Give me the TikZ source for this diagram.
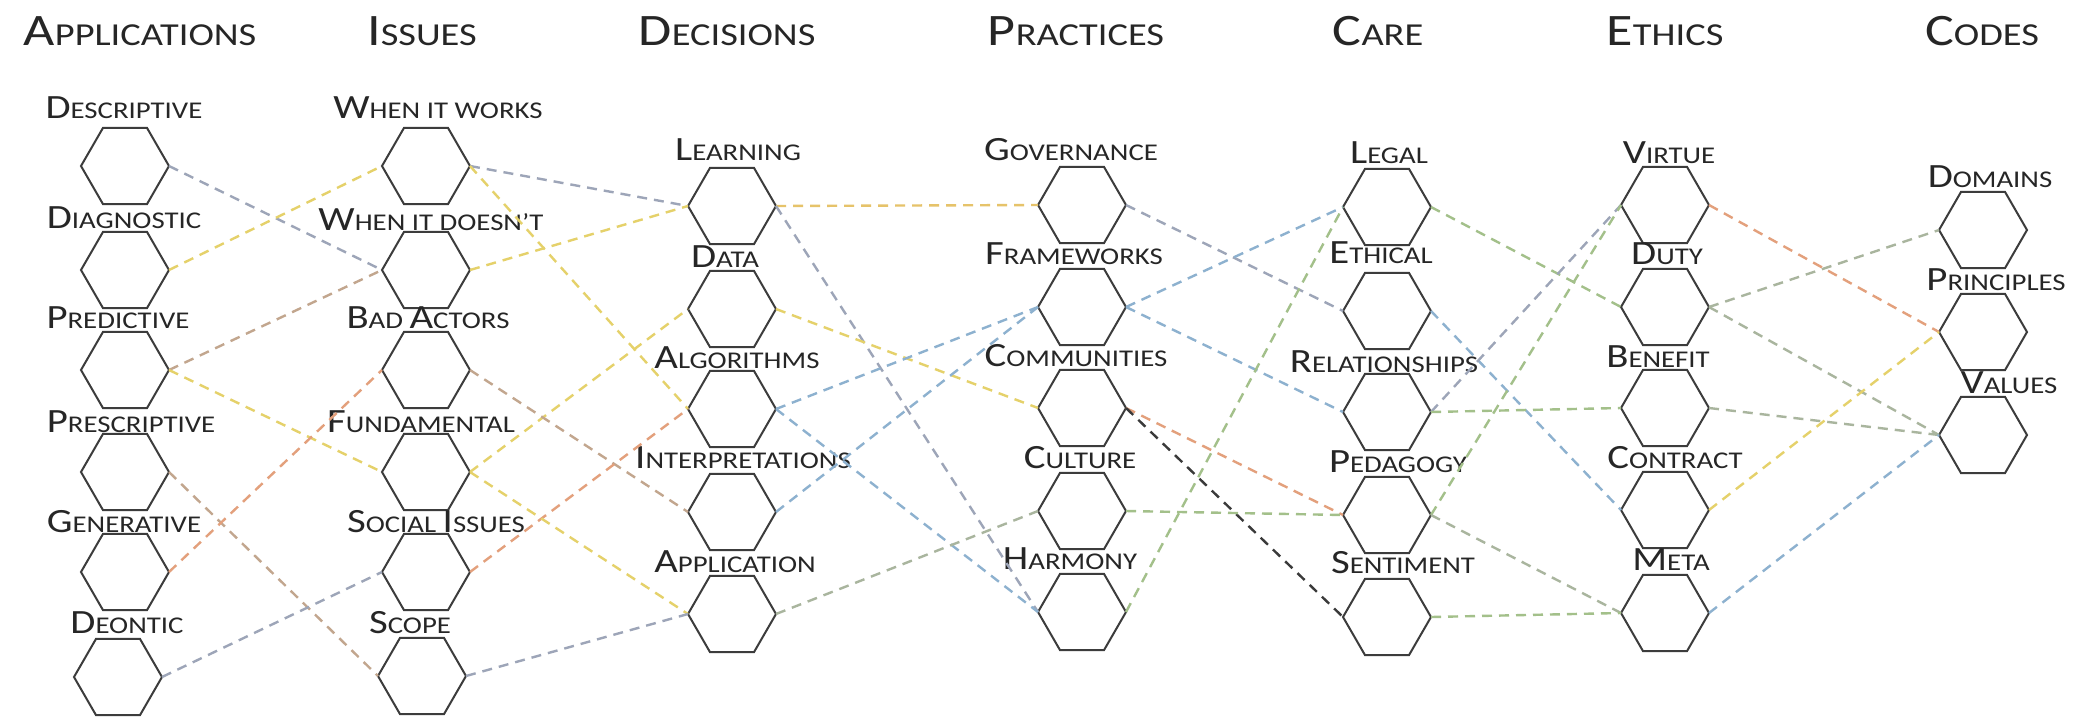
\documentclass[tikz,border=0pt]{standalone}
\usepackage{fontspec}
\setmainfont{Carlito}[FakeStretch=1.2]
\usetikzlibrary{shapes.geometric}
\definecolor{hexcol}{HTML}{3C3C3C}
\definecolor{txtcol}{HTML}{262626}
\definecolor{cgray}{HTML}{9DA5B8}
\definecolor{cyel}{HTML}{E5D16A}
\definecolor{cgold}{HTML}{E6C36A}
\definecolor{corg}{HTML}{E3A07C}
\definecolor{ctan}{HTML}{C2A68E}
\definecolor{cblue}{HTML}{8DB1CF}
\definecolor{cgrn}{HTML}{A3C08A}
\definecolor{cgg}{HTML}{A9B59E}
\definecolor{cblk}{HTML}{3A3A3A}
\newcommand\BigL[1]{{\fontsize{17pt}{20pt}\selectfont #1}}
\newcommand\SmL[1]{{\fontsize{12pt}{20pt}\selectfont #1}}
\newcommand\BigH[1]{{\fontsize{22.5pt}{26pt}\selectfont #1}}
\newcommand\SmH[1]{{\fontsize{16pt}{26pt}\selectfont #1}}
\tikzset{
  hexa/.style={draw=hexcol, line width=1pt, regular polygon, regular polygon sides=6,
    minimum size=44pt, inner sep=0pt, outer sep=0pt},
  lbl/.style={anchor=base, inner sep=0pt, text=txtcol},
  hdr/.style={anchor=base, inner sep=0pt, text=txtcol},
  lk/.style={dash pattern=on 5pt off 3.5pt, line width=1.2pt}
}
\begin{document}
\begin{tikzpicture}[x=0.5pt,y=-0.5pt]
\fill[white] (0,0) rectangle (2082,718);
\useasboundingbox (0,0) rectangle (2082,718);
% headers
\node[hdr] (h1) at (140,45) {\BigH{A}\SmH{PPLICATIONS}};
\node[hdr] (h2) at (422,45) {\BigH{I}\SmH{SSUES}};
\node[hdr] (h3) at (727,45) {\BigH{D}\SmH{ECISIONS}};
\node[hdr] (h4) at (1076,45) {\BigH{P}\SmH{RACTICES}};
\node[hdr] (h5) at (1378,45) {\BigH{C}\SmH{ARE}};
\node[hdr] (h6) at (1665,45) {\BigH{E}\SmH{THICS}};
\node[hdr] (h7) at (1982,45) {\BigH{C}\SmH{ODES}};
% column 1
\node[hexa] (desc) at (125,166) {};
\node[hexa] (diag) at (125,270) {};
\node[hexa] (pred) at (125,370) {};
\node[hexa] (presc) at (125,472) {};
\node[hexa] (gen) at (125,572) {};
\node[hexa] (deon) at (118,677) {};
\node[lbl] (ldesc) at (124,118) {\BigL{D}\SmL{ESCRIPTIVE}};
\node[lbl] (ldiag) at (124,228) {\BigL{D}\SmL{IAGNOSTIC}};
\node[lbl] (lpred) at (118,328) {\BigL{P}\SmL{REDICTIVE}};
\node[lbl] (lpresc) at (131,432) {\BigL{P}\SmL{RESCRIPTIVE}};
\node[lbl] (lgen) at (124,532) {\BigL{G}\SmL{ENERATIVE}};
\node[lbl] (ldeon) at (127,633) {\BigL{D}\SmL{EONTIC}};
% column 2
\node[hexa] (works) at (426,166) {};
\node[hexa] (doesnt) at (426,270) {};
\node[hexa] (bad) at (426,370) {};
\node[hexa] (fund) at (426,472) {};
\node[hexa] (social) at (426,572) {};
\node[hexa] (scope) at (422,676) {};
\node[lbl] (lworks) at (438,118) {\BigL{W}\SmL{HEN IT WORKS}};
\node[lbl] (ldoesnt) at (431,230) {\BigL{W}\SmL{HEN IT DOESN’T}};
\node[lbl] (lbad) at (428,328) {\BigL{B}\SmL{AD }\BigL{A}\SmL{CTORS}};
\node[lbl] (lfund) at (421,432) {\BigL{F}\SmL{UNDAMENTAL}};
\node[lbl] (lsocial) at (436,532) {\BigL{S}\SmL{OCIAL }\BigL{I}\SmL{SSUES}};
\node[lbl] (lscope) at (410,633) {\BigL{S}\SmL{COPE}};
% column 3
\node[hexa] (learn) at (732,206) {};
\node[hexa] (data) at (732,309) {};
\node[hexa] (algo) at (732,409) {};
\node[hexa] (interp) at (732,512) {};
\node[hexa] (appl) at (732,614) {};
\node[lbl] (llearn) at (738,160) {\BigL{L}\SmL{EARNING}};
\node[lbl] (ldata) at (725,267) {\BigL{D}\SmL{ATA}};
\node[lbl] (lalgo) at (737,368) {\BigL{A}\SmL{LGORITHMS}};
\node[lbl] (linterp) at (743,468) {\BigL{I}\SmL{NTERPRETATIONS}};
\node[lbl] (lappl) at (735,572) {\BigL{A}\SmL{PPLICATION}};
% column 4
\node[hexa] (gov) at (1082,205) {};
\node[hexa] (frame) at (1082,307) {};
\node[hexa] (comm) at (1082,408) {};
\node[hexa] (cult) at (1082,511) {};
\node[hexa] (harm) at (1082,612) {};
\node[lbl] (lgov) at (1071,160) {\BigL{G}\SmL{OVERNANCE}};
\node[lbl] (lframe) at (1074,264) {\BigL{F}\SmL{RAMEWORKS}};
\node[lbl] (lcomm) at (1076,366) {\BigL{C}\SmL{OMMUNITIES}};
\node[lbl] (lcult) at (1080,468) {\BigL{C}\SmL{ULTURE}};
\node[lbl] (lharm) at (1070,569) {\BigL{H}\SmL{ARMONY}};
% column 5
\node[hexa] (legal) at (1387,207) {};
\node[hexa] (ethical) at (1387,311) {};
\node[hexa] (rel) at (1387,412) {};
\node[hexa] (ped) at (1387,515) {};
\node[hexa] (sent) at (1387,617) {};
\node[lbl] (llegal) at (1389,163) {\BigL{L}\SmL{EGAL}};
\node[lbl] (lethical) at (1381,263) {\BigL{E}\SmL{THICAL}};
\node[lbl] (lrel) at (1384,372) {\BigL{R}\SmL{ELATIONSHIPS}};
\node[lbl] (lped) at (1398,472) {\BigL{P}\SmL{EDAGOGY}};
\node[lbl] (lsent) at (1403,573) {\BigL{S}\SmL{ENTIMENT}};
% column 6
\node[hexa] (virtue) at (1665,205) {};
\node[hexa] (duty) at (1665,307) {};
\node[hexa] (benefit) at (1665,408) {};
\node[hexa] (contract) at (1665,510) {};
\node[hexa] (meta) at (1665,613) {};
\node[lbl] (lvirtue) at (1669,163) {\BigL{V}\SmL{IRTUE}};
\node[lbl] (lduty) at (1667,264) {\BigL{D}\SmL{UTY}};
\node[lbl] (lbenefit) at (1658,367) {\BigL{B}\SmL{ENEFIT}};
\node[lbl] (lcontract) at (1675,468) {\BigL{C}\SmL{ONTRACT}};
\node[lbl] (lmeta) at (1671,570) {\BigL{M}\SmL{ETA}};
% column 7
\node[hexa] (domains) at (1983,230) {};
\node[hexa] (principles) at (1983,332) {};
\node[hexa] (values) at (1983,435) {};
\node[lbl] (ldomains) at (1990,187) {\BigL{D}\SmL{OMAINS}};
\node[lbl] (lprinciples) at (1996,290) {\BigL{P}\SmL{RINCIPLES}};
\node[lbl] (lvalues) at (2009,393) {\BigL{V}\SmL{ALUES}};
% links col1 -> col2
\draw[lk,cgray] (desc.0) -- (doesnt.180);
\draw[lk,cyel] (diag.0) -- (works.180);
\draw[lk,ctan] (pred.0) -- (doesnt.180);
\draw[lk,cyel] (pred.0) -- (fund.180);
\draw[lk,ctan] (presc.0) -- (scope.180);
\draw[lk,corg] (gen.0) -- (bad.180);
\draw[lk,cgray] (deon.0) -- (social.180);
% col2 -> col3
\draw[lk,cgray] (works.0) -- (learn.180);
\draw[lk,cyel] (works.0) -- (algo.180);
\draw[lk,cyel] (doesnt.0) -- (learn.180);
\draw[lk,cyel] (fund.0) -- (data.180);
\draw[lk,ctan] (bad.0) -- (interp.180);
\draw[lk,corg] (social.0) -- (algo.180);
\draw[lk,cyel] (fund.0) -- (appl.180);
\draw[lk,cgray] (scope.0) -- (appl.180);
% col3 -> col4
\draw[lk,cgold] (learn.0) -- (gov.180);
\draw[lk,cgray] (learn.0) -- (harm.180);
\draw[lk,cyel] (data.0) -- (comm.180);
\draw[lk,cblue] (algo.0) -- (frame.180);
\draw[lk,cblue] (algo.0) -- (harm.180);
\draw[lk,cblue] (interp.0) -- (frame.180);
\draw[lk,cgg] (appl.0) -- (cult.180);
% col4 -> col5
\draw[lk,cgray] (gov.0) -- (ethical.180);
\draw[lk,cblue] (frame.0) -- (legal.180);
\draw[lk,cblue] (frame.0) -- (rel.180);
\draw[lk,corg] (comm.0) -- (ped.180);
\draw[lk,cblk] (comm.0) -- (sent.180);
\draw[lk,cgrn] (cult.0) -- (ped.180);
\draw[lk,cgrn] (harm.0) -- (legal.180);
% col5 -> col6
\draw[lk,cgrn] (legal.0) -- (duty.180);
\draw[lk,cblue] (ethical.0) -- (contract.180);
\draw[lk,cgray] (rel.0) -- (virtue.180);
\draw[lk,cgrn] (ped.0) -- (virtue.180);
\draw[lk,cgrn] (rel.0) -- (benefit.180);
\draw[lk,cgg] (ped.0) -- (meta.180);
\draw[lk,cgrn] (sent.0) -- (meta.180);
% col6 -> col7
\draw[lk,corg] (virtue.0) -- (principles.180);
\draw[lk,cgg] (duty.0) -- (domains.180);
\draw[lk,cgg] (duty.0) -- (values.180);
\draw[lk,cgg] (benefit.0) -- (values.180);
\draw[lk,cyel] (contract.0) -- (principles.180);
\draw[lk,cblue] (meta.0) -- (values.180);
\end{tikzpicture}
\end{document}
